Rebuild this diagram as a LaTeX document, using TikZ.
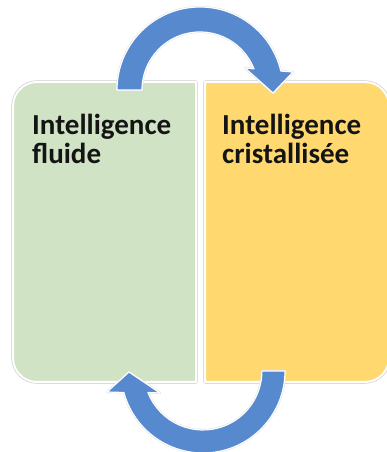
\documentclass[tikz,border=0pt]{standalone}
\usepackage{fontspec}
\setmainfont{Carlito}
\definecolor{fluidgreen}{HTML}{D0E3C4}
\definecolor{crystgold}{HTML}{FFD970}
\definecolor{cycleblue}{HTML}{5689CE}
\definecolor{edgegray}{HTML}{C8C8C8}
\definecolor{labelink}{HTML}{141414}
\begin{document}
\begin{tikzpicture}[x=1pt,y=1pt,
  halo/.style={draw=edgegray,line width=3.2pt,line join=round},
  panel/.style={draw=white,line width=2pt,line join=round},
  bigarrow/.style={fill=cycleblue,draw=white,line width=1.2pt,line join=round},
  caption/.style={anchor=base west,inner sep=0pt,text=labelink,
    font=\fontsize{29}{27}\selectfont\bfseries}]
\useasboundingbox (0,0) rectangle (387,452);
\fill[white] (0,0) rectangle (387,452);

% left panel: rounded on its outer side
\def\leftpanel{(196,70) -- (37,70) arc[start angle=270,end angle=180,radius=24]
  -- (13,346) arc[start angle=180,end angle=90,radius=24] -- (196,370) -- cycle}
% right panel: mirror image, running past the right edge
\def\rightpanel{(205,70) -- (365,70) arc[start angle=-90,end angle=0,radius=24]
  -- (389,346) arc[start angle=0,end angle=90,radius=24] -- (205,370) -- cycle}

\draw[halo] \leftpanel;
\draw[halo] \rightpanel;
\fill[fluidgreen] \leftpanel;
\fill[crystgold] \rightpanel;
\draw[panel] \leftpanel;
\draw[panel] \rightpanel;

% upper curved arrow, from the left panel into the right one
\def\toparrow{(117,362) arc[start angle=180,end angle=13.2,radius=83]
  -- (293,380) -- (273,359) -- (245,384) -- (254,383.1)
  arc[start angle=21.3,end angle=180,radius=58] -- cycle}
% lower curved arrow, from the right panel back into the left one
\def\bottomarrow{(285,81) arc[start angle=0,end angle=-164.8,radius=82]
  -- (107,60) -- (129,80) -- (160,59) -- (148,59.5)
  arc[start angle=-158.6,end angle=0,radius=59] -- cycle}

\draw[halo,line width=2pt,draw=edgegray!60] \toparrow;
\draw[halo,line width=2pt,draw=edgegray!60] \bottomarrow;
\draw[bigarrow] \toparrow;
\draw[bigarrow] \bottomarrow;

\node[caption] (fluid) at (32,317)
  {\begin{tabular}[t]{@{}l@{}}Intelligence\\fluide\end{tabular}};
\node[caption] (crystal) at (222,317)
  {\begin{tabular}[t]{@{}l@{}}Intelligence\\cristallisée\end{tabular}};
\end{tikzpicture}
\end{document}
